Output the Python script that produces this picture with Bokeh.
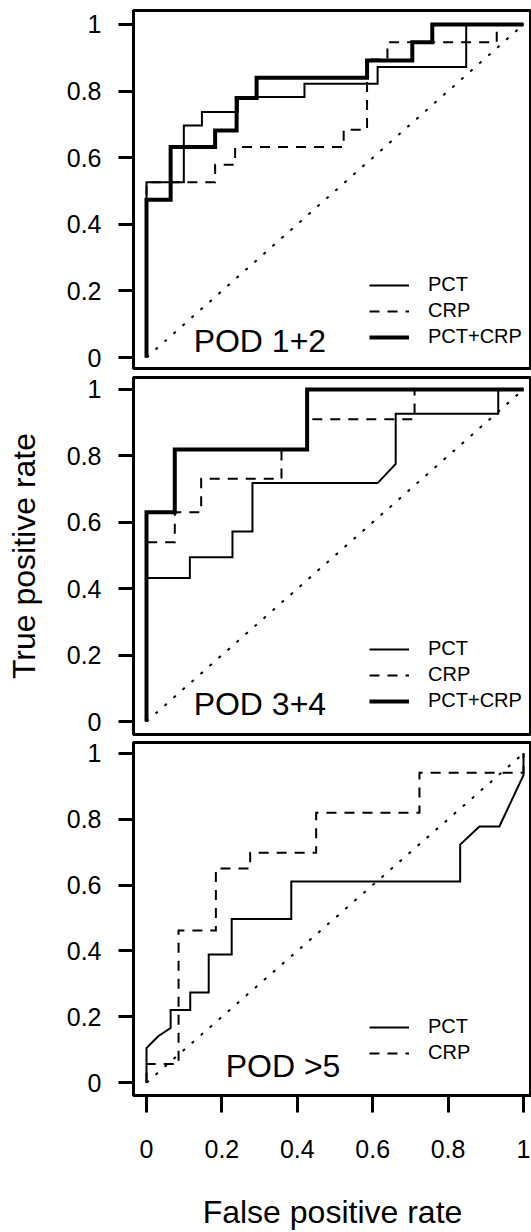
from bokeh.plotting import figure
from bokeh.layouts import column
from bokeh.models import FixedTicker, Legend, LegendItem, Label, Range1d
from bokeh.embed import file_html
from bokeh.resources import INLINE

# ---------------- data (ROC vertices) ----------------
diag = [0.0, 1.0]
tick_values = [0, 0.2, 0.4, 0.6, 0.8, 1]
tick_labels = {0: "0", 1: "1"}

# Panel 1 : POD 1+2
pod12_pct_fpr = [0, 0, 0.099, 0.099, 0.147, 0.147, 0.242, 0.242, 0.419, 0.419, 0.613, 0.613, 0.848, 0.848, 1]
pod12_pct_tpr = [0, 0.526, 0.526, 0.697, 0.697, 0.737, 0.737, 0.782, 0.782, 0.822, 0.822, 0.872, 0.872, 1, 1]
pod12_crp_fpr = [0, 0, 0.182, 0.182, 0.235, 0.235, 0.523, 0.523, 0.585, 0.585, 0.639, 0.639, 0.929, 0.929, 1]
pod12_crp_tpr = [0, 0.526, 0.526, 0.579, 0.579, 0.632, 0.632, 0.684, 0.684, 0.895, 0.895, 0.947, 0.947, 1, 1]
pod12_both_fpr = [0, 0, 0.064, 0.064, 0.182, 0.182, 0.239, 0.239, 0.292, 0.292, 0.585, 0.585, 0.705, 0.705, 0.758, 0.758, 1]
pod12_both_tpr = [0, 0.474, 0.474, 0.632, 0.632, 0.682, 0.682, 0.779, 0.779, 0.84, 0.84, 0.892, 0.892, 0.947, 0.947, 1, 1]

# Panel 2 : POD 3+4
pod34_pct_fpr = [0, 0, 0.115, 0.115, 0.228, 0.228, 0.281, 0.281, 0.613, 0.661, 0.661, 0.933, 0.933, 1]
pod34_pct_tpr = [0, 0.432, 0.432, 0.495, 0.495, 0.572, 0.572, 0.718, 0.718, 0.776, 0.927, 0.927, 1, 1]
pod34_crp_fpr = [0, 0, 0.075, 0.075, 0.145, 0.145, 0.358, 0.358, 0.426, 0.426, 0.711, 0.711, 1]
pod34_crp_tpr = [0, 0.54, 0.54, 0.63, 0.63, 0.731, 0.731, 0.819, 0.819, 0.91, 0.91, 1, 1]
pod34_both_fpr = [0, 0, 0.075, 0.075, 0.426, 0.426, 1]
pod34_both_tpr = [0, 0.63, 0.63, 0.819, 0.819, 1, 1]

# Panel 3 : POD >5
pod5_pct_fpr = [0, 0, 0.031, 0.064, 0.064, 0.116, 0.116, 0.165, 0.165, 0.226, 0.226, 0.384, 0.384, 0.832, 0.832, 0.883, 0.936, 1, 1]
pod5_pct_tpr = [0, 0.105, 0.141, 0.166, 0.221, 0.221, 0.274, 0.274, 0.389, 0.389, 0.497, 0.497, 0.611, 0.611, 0.723, 0.778, 0.778, 0.934, 1]
pod5_crp_fpr = [0, 0, 0.085, 0.085, 0.184, 0.184, 0.275, 0.275, 0.45, 0.45, 0.724, 0.724, 1, 1]
pod5_crp_tpr = [0, 0.057, 0.057, 0.462, 0.462, 0.65, 0.65, 0.698, 0.698, 0.82, 0.82, 0.941, 0.941, 1]

panel_titles = ["POD 1+2", "POD 3+4", "POD >5"]
series_names = ["PCT", "CRP", "PCT+CRP"]

FONT = "Liberation Sans"
X_RANGE = (-0.0345, 1.0212)


def style_axis(ax, tick_out, standoff):
    ax.ticker = FixedTicker(ticks=tick_values)
    ax.major_label_overrides = tick_labels
    ax.major_tick_out = tick_out
    ax.major_tick_in = 0
    ax.minor_tick_out = 0
    ax.minor_tick_in = 0
    ax.major_tick_line_width = 3
    ax.major_tick_line_color = "black"
    ax.axis_line_width = 3
    ax.axis_line_color = "black"
    ax.major_label_text_font = FONT
    ax.major_label_text_font_size = "25px"
    ax.major_label_text_color = "black"
    ax.major_label_standoff = standoff
    ax.axis_label_text_font = FONT
    ax.axis_label_text_font_size = "32px"
    ax.axis_label_text_font_style = "normal"
    ax.axis_label_text_color = "black"


def make_panel(height, top, bottom, yr, show_x):
    p = figure(width=531, height=height,
               x_range=Range1d(*X_RANGE), y_range=Range1d(*yr),
               output_backend="svg", toolbar_location=None,
               min_border_left=133, min_border_right=0,
               min_border_top=top, min_border_bottom=bottom,
               x_axis_location="below" if show_x else None)
    p.grid.visible = False
    p.outline_line_color = "black"
    p.outline_line_width = 3
    p.background_fill_color = "white"
    p.border_fill_color = "white"
    style_axis(p.yaxis[0], 15, 17)
    if show_x:
        style_axis(p.xaxis[0], 17, 27)
    p.line(diag, diag, line_color="black", line_width=2, line_dash="3 9")
    return p


def add_legend(p, renderers, names, loc):
    items = [LegendItem(label=n, renderers=[r]) for n, r in zip(names, renderers)]
    lg = Legend(items=items, location=loc, padding=0, margin=0, spacing=3,
                glyph_width=40, glyph_height=22, label_height=22, label_standoff=19,
                label_text_font=FONT, label_text_font_size="20px", label_text_color="black",
                background_fill_alpha=0, border_line_alpha=0)
    p.add_layout(lg)


def add_title(p, text, x, y):
    p.add_layout(Label(x=x, y=y, text=text, text_font=FONT, text_font_size="32px",
                       text_color="black", text_align="left", text_baseline="alphabetic"))


# ---------------- panel 1 ----------------
p1 = make_panel(372, 10, 4, (-0.033, 1.042), False)
r1a = p1.line(pod12_pct_fpr, pod12_pct_tpr, line_color="black", line_width=2, line_join="miter")
r1b = p1.line(pod12_crp_fpr, pod12_crp_tpr, line_color="black", line_width=2, line_dash="10 8", line_join="miter")
r1c = p1.line(pod12_both_fpr, pod12_both_tpr, line_color="black", line_width=4, line_join="miter")
add_legend(p1, [r1a, r1b, r1c], series_names, (236, 20))
add_title(p1, panel_titles[0], 0.125, 0.051)

# ---------------- panel 2 ----------------
p2 = make_panel(366, 5, 4, (-0.039, 1.036), False)
p2.yaxis[0].axis_label = "True positive rate"
p2.yaxis[0].axis_label_standoff = 22
r2a = p2.line(pod34_pct_fpr, pod34_pct_tpr, line_color="black", line_width=2, line_join="miter")
r2b = p2.line(pod34_crp_fpr, pod34_crp_tpr, line_color="black", line_width=2, line_dash="10 8", line_join="miter")
r2c = p2.line(pod34_both_fpr, pod34_both_tpr, line_color="black", line_width=4, line_join="miter")
add_legend(p2, [r2a, r2b, r2c], series_names, (236, 22))
add_title(p2, panel_titles[1], 0.125, 0.054)

# ---------------- panel 3 ----------------
p3 = make_panel(494, 4, 134, (-0.039, 1.033), True)
p3.xaxis[0].axis_label = "False positive rate"
p3.xaxis[0].axis_label_standoff = 33
r3a = p3.line(pod5_pct_fpr, pod5_pct_tpr, line_color="black", line_width=2, line_join="miter")
r3b = p3.line(pod5_crp_fpr, pod5_crp_tpr, line_color="black", line_width=2, line_dash="10 8", line_join="miter")
add_legend(p3, [r3a, r3b], series_names[:2], (236, 31))
add_title(p3, panel_titles[2], 0.21, 0.051)

layout = column(p1, p2, p3, spacing=0)
open("out.html", "w").write(file_html(layout, INLINE))
